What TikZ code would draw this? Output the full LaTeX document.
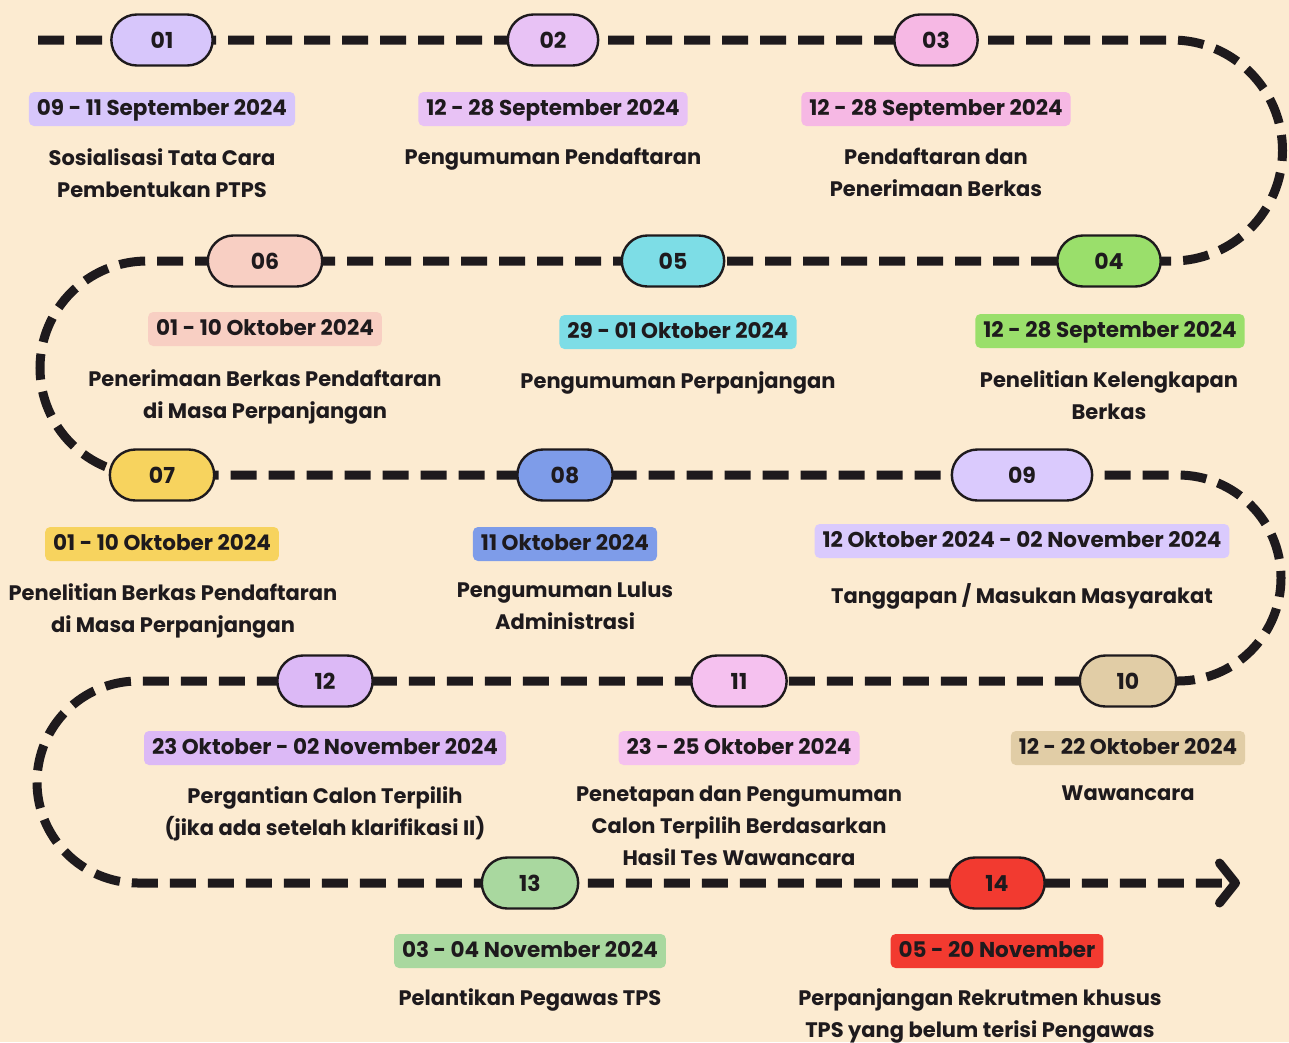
\documentclass[tikz,border=0pt]{standalone}
\usepackage{fontspec}
\setmainfont{Poppins}
\usetikzlibrary{positioning, shapes.misc, arrows.meta, backgrounds}

\definecolor{bg}{HTML}{FCEBD1}
\definecolor{ink}{HTML}{1E1A1D}
\definecolor{c1}{HTML}{D7C6FB}
\definecolor{c2}{HTML}{E8C2F5}
\definecolor{c3}{HTML}{F6B8E4}
\definecolor{c4}{HTML}{9ADF6B}
\definecolor{c5}{HTML}{7DDDE6}
\definecolor{c6}{HTML}{F8CFC3}
\definecolor{c7}{HTML}{F7D35E}
\definecolor{c8}{HTML}{7E9CE9}
\definecolor{c9}{HTML}{DACAFD}
\definecolor{c10}{HTML}{E1CDA6}
\definecolor{c11}{HTML}{F5C1EF}
\definecolor{c12}{HTML}{DCB9F6}
\definecolor{c13}{HTML}{A9D89F}
\definecolor{c14}{HTML}{F23A30}

\tikzset{
	pill/.style={rounded rectangle, draw=ink, line width=2.4pt, minimum height=51pt,
		font=\fontsize{22}{22}\selectfont\bfseries, text=ink},
	datebox/.style={rounded corners=5pt, inner xsep=8pt, inner ysep=7pt,
		text height=16pt, text depth=4pt,
		font=\fontsize{21.5}{21.5}\selectfont\bfseries, text=ink},
	desc/.style={align=center, inner sep=0pt, anchor=north,
		font=\fontsize{21}{32}\selectfont\bfseries, text=ink},
	snake/.style={draw=ink, line width=9pt, dash pattern=on 26pt off 12pt}
}

\begin{document}
\begin{tikzpicture}[x=1pt,y=-1pt]
	\useasboundingbox (0,0) rectangle (1289,1042);
	% steps: number/x/y/width/date x/date y/text x/text y/date/text
	\foreach \n/\x/\y/\w/\dx/\dy/\tx/\ty/\date/\desc in {
		1/162/40/108/162/109/162/148/{09 - 11 September 2024}/{Sosialisasi Tata Cara\\Pembentukan PTPS},
		2/553/40/97/553/109/553/148/{12 - 28 September 2024}/{Pengumuman Pendaftaran},
		3/936/40/90/936/109/936/148/{12 - 28 September 2024}/{Pendaftaran dan\\Penerimaan Berkas},
		4/1109/261/110/1110/331/1109/370/{12 - 28 September 2024}/{Penelitian Kelengkapan\\Berkas},
		5/673/261/109/678/332/678/371/{29 - 01 Oktober 2024}/{Pengumuman Perpanjangan},
		6/265/261/121/265/329/265/369/{01 - 10 Oktober 2024}/{Penerimaan Berkas Pendaftaran\\di Masa Perpanjangan},
		7/162/475/111/162/544/173/583/{01 - 10 Oktober 2024}/{Penelitian Berkas Pendaftaran\\di Masa Perpanjangan},
		8/565/475/102/565/544/565/582/{11 Oktober 2024}/{Pengumuman Lulus\\Administrasi},
		9/1022/475/147/1022/541/1022/583/{12 Oktober 2024 - 02 November 2024}/{Tanggapan / Masukan Masyarakat},
		10/1128/681/103/1128/748/1128/786/{12 - 22 Oktober 2024}/{Wawancara},
		11/739/681/102/739/748/739/786/{23 - 25 Oktober 2024}/{Penetapan dan Pengumuman\\Calon Terpilih Berdasarkan\\Hasil Tes Wawancara},
		12/325/681/102/325/748/325/786/{23 Oktober - 02 November 2024}/{Pergantian Calon Terpilih\\(jika ada setelah klarifikasi II)},
		13/530/883/103/530/951/530/988/{03 - 04 November 2024}/{Pelantikan Pegawas TPS},
		14/997/883/102/997/951/980/988/{05 - 20 November}/{Perpanjangan Rekrutmen khusus\\TPS yang belum terisi Pengawas}}
	{
		\node[pill, fill=c\n, minimum width=\w pt] (s\n) at (\x,\y) {\ifnum\n<10 0\fi\n};
		\node[datebox, fill=c\n] (d\n) at (\dx,\dy) {\date};
		\node[desc] (t\n) at (\tx,\ty) {\desc};
	}
	\begin{scope}[on background layer]
		\fill[bg] (0,0) rectangle (1289,1042);
		\coordinate (start) at (38,40);
		\coordinate (finish) at (1240,883);
		\draw[snake, -{Straight Barb[length=16pt, width=40pt, line cap=round, line join=round]}]
			(start) -- (s1.center) -- (s2.center) -- (s3.center) -- (1172,40)
			arc[start angle=-90, end angle=90, radius=110.5]
			-- (s4.center) -- (s5.center) -- (s6.center) -- (147,261)
			arc[start angle=-90, end angle=-270, radius=107]
			-- (s7.center) -- (s8.center) -- (s9.center) -- (1178,475)
			arc[start angle=-90, end angle=90, radius=103]
			-- (s10.center) -- (s11.center) -- (s12.center) -- (138,681)
			arc[start angle=-90, end angle=-270, radius=101]
			-- (s13.center) -- (s14.center) -- (finish);
	\end{scope}
\end{tikzpicture}
\end{document}
